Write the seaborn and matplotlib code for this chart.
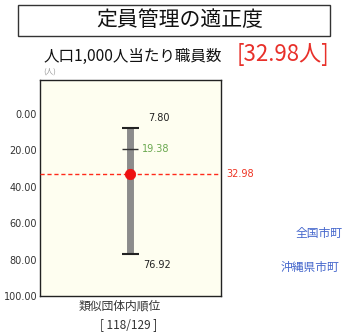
import matplotlib
matplotlib.use("Agg")
import matplotlib.pyplot as plt
import matplotlib.transforms as mtransforms
from matplotlib.patches import Rectangle
import seaborn as sns
import pandas as pd

# ---- data ----
title = "定員管理の適正度"
subtitle = "人口1,000人当たり職員数"
value_label = "[32.98人]"
unit_label = "(人)"
rank_title = "類似団体内順位"
rank_label = "[ 118/129 ]"
legend_labels = ["全国市町", "沖縄県市町"]
y_ticks = [0, 20, 40, 60, 80, 100]
group_min = 7.80
group_max = 76.92
group_mean = 19.38
own_value = 32.98

sns.set_theme(style="white")
plt.rcParams['font.family'] = ['Noto Sans CJK JP', 'DejaVu Sans']

fig = plt.figure(figsize=(3.44, 3.33), dpi=100)
ax = fig.add_axes([0.116, 0.111, 0.526, 0.649])
ax.set_facecolor("#fefef0")

# range bar
df_range = pd.DataFrame({"x": [0.5, 0.5], "y": [group_min, group_max]})
sns.lineplot(data=df_range, x="x", y="y", ax=ax, color="#8c8c8c", linewidth=5,
             solid_capstyle="butt", estimator=None, sort=False, legend=False)
ax.hlines([group_min, group_max], 0.455, 0.545, color="#222222", linewidth=1.5)
ax.hlines([group_mean], 0.455, 0.54, color="#333333", linewidth=1.0)

# own value
ax.axhline(own_value, color="#ff2a1a", linestyle=(0, (3, 2)), linewidth=1.0, zorder=3)
df_pt = pd.DataFrame({"x": [0.5], "y": [own_value]})
sns.scatterplot(data=df_pt, x="x", y="y", ax=ax, color="#ee1111", s=55,
                edgecolor="#ee1111", zorder=5, legend=False)

ax.set_xlim(0, 1)
ax.set_ylim(100, -18.7)
ax.set_yticks(y_ticks)
ax.set_yticklabels([f"{v:.2f}" for v in y_ticks], fontsize=7, color="#333333",
                   family=['DejaVu Sans'])
ax.set_xticks([])
ax.set_xlabel("")
ax.set_ylabel("")
ax.tick_params(axis="y", length=0, pad=2)
for s in ax.spines.values():
    s.set_color("#222222")
    s.set_linewidth(1.0)

# value labels
ax.text(0.6, group_min - 5.5, f"{group_min:.2f}", fontsize=7, color="#222222",
        va="center", ha="left", family=['DejaVu Sans'])
ax.text(0.565, group_mean, f"{group_mean:.2f}", fontsize=7, color="#6aa84f",
        va="center", ha="left", family=['DejaVu Sans'])
ax.text(0.57, group_max + 6, f"{group_max:.2f}", fontsize=7, color="#222222",
        va="center", ha="left", family=['DejaVu Sans'])
trans = mtransforms.blended_transform_factory(ax.transAxes, ax.transData)
ax.text(1.03, own_value, f"{own_value:.2f}", transform=trans, fontsize=7,
        color="#ee3322", va="center", ha="left", family=['DejaVu Sans'])

# title box
fig.patches.append(Rectangle((18 / 344, 1 - 36 / 333), 312 / 344, 31 / 333,
                             transform=fig.transFigure, fill=False,
                             edgecolor="#333333", linewidth=1.0))
fig.text(180 / 344, 1 - 20 / 333, title, fontsize=15, ha="center", va="center",
         color="#111111")
fig.text(44 / 344, 1 - 56 / 333, subtitle, fontsize=11.2, ha="left", va="center",
         color="#111111")
fig.text(237 / 344, 1 - 55 / 333, value_label, fontsize=16, ha="left", va="center",
         color="#e8302a")
fig.text(50 / 344, 1 - 72 / 333, unit_label, fontsize=5.5, ha="center", va="center",
         color="#999999")

fig.text(120 / 344, 1 - 306 / 333, rank_title, fontsize=8.5, ha="center", va="center",
         color="#333333")
fig.text(129 / 344, 1 - 325 / 333, rank_label, fontsize=8.5, ha="center", va="center",
         color="#333333")

fig.text(296 / 344, 1 - 233 / 333, legend_labels[0], fontsize=8.5, ha="left",
         va="center", color="#4466cc")
fig.text(281 / 344, 1 - 268 / 333, legend_labels[1], fontsize=8.5, ha="left",
         va="center", color="#4466cc")

fig.savefig("out.png", dpi=100)
